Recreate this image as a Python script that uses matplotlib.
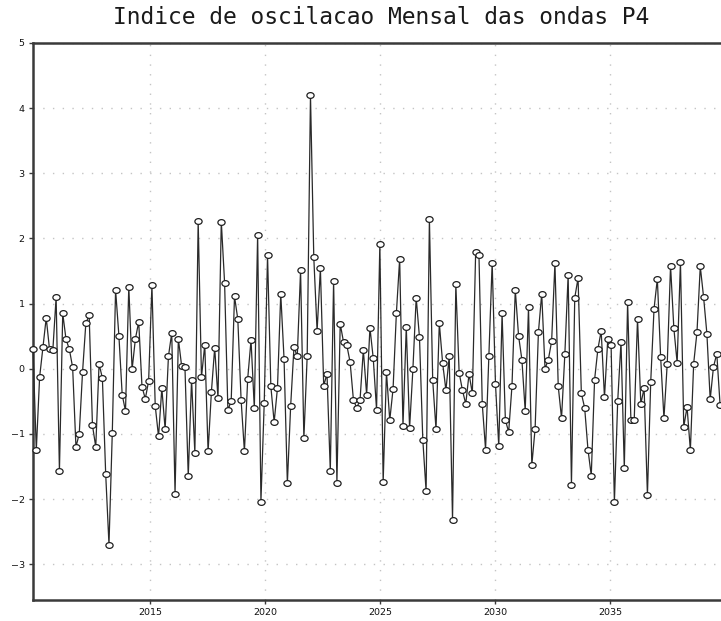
import numpy as np
import matplotlib
matplotlib.use("Agg")
import matplotlib.pyplot as plt
from matplotlib.path import Path
from matplotlib.transforms import Affine2D

# Monthly wave oscillation index (P4), consecutive samples
index_values = [
    0.30, -1.25, -0.13, 0.33, 0.78, 0.30, 0.28, 1.10, -1.57, 0.85,
    0.45, 0.30, 0.02, -1.20, -1.00, -0.05, 0.70, 0.82, -0.87, -1.20,
    0.07, -0.14, -1.61, -2.70, -0.99, 1.21, 0.51, -0.40, -0.65, 1.26,
    -0.01, 0.46, 0.72, -0.28, -0.46, -0.19, 1.28,
    -0.57, -1.04, -0.30, -0.93, 0.19, 0.55, -1.92, 0.46, 0.04, 0.02,
    -1.65, -0.17, -1.30, 2.27, -0.13, 0.37,
    -1.27, -0.36, 0.32, -0.45, 2.26, 1.32, -0.64, -0.49, 1.11, 0.76,
    -0.48, -1.27, -0.15, 0.44, -0.61, 2.06, -2.04,
    -0.52, 1.74, -0.27, -0.82, -0.30, 1.15, 0.15, -1.76, -0.57, 0.33,
    0.19, 1.51, -1.07, 0.19, 4.20, 1.71, 0.58, 1.54,
    -0.26, -0.08, -1.57, 1.35, -1.75, 0.69, 0.41, 0.36, 0.10, -0.48,
    -0.60, -0.48, 0.29, -0.40, 0.63, 0.16, -0.63, 1.92,
    -1.74, -0.05, -0.79, -0.31, 0.85, 1.69, -0.88, 0.64, -0.91, -0.01,
    1.09, 0.48, -1.09, -1.88, 2.30, -0.18, -0.93,
    0.70, 0.09, -0.33, 0.19, -2.32, 1.30, -0.06, -0.33, -0.54, -0.08,
    -0.38, 1.79, 1.75, -0.54, -1.24, 0.19, 1.63, -0.23,
    -1.19, 0.85, -0.79, -0.97, -0.26, 1.21, 0.50, 0.14, -0.65, 0.94,
    -1.48, -0.92, 0.56, 1.15, 0.00, 0.14, 0.42,
    1.62, -0.27, -0.76, 0.22, 1.44, -1.78, 1.09, 1.39, -0.38, -0.60,
    -1.24, -1.64, -0.17, 0.30, 0.58, -0.44, 0.46, 0.36,
    -2.05, -0.50, 0.41, -1.53, 1.02, -0.79, -0.79, 0.77, -0.54, -0.30,
    -1.94, -0.20, 0.92, 1.38, 0.18, -0.76, 0.08,
    1.58, 0.62, 0.09, 1.64, -0.89, -0.59, -1.25, 0.08, 0.56, 1.57,
    1.10, 0.54, -0.47, 0.03, 0.23, -0.56,
]

# Sample times in decimal years
t_start, t_end = 2009.91, 2039.78
times = np.linspace(t_start, t_end, len(index_values))

year_ticks = [2015, 2020, 2025, 2030, 2035]
value_ticks = [-3, -2, -1, 0, 1, 2, 3, 4, 5]

title = "Indice de oscilacao Mensal das ondas P4"

W, H = 721, 621
fig = plt.figure(figsize=(W / 100, H / 100), dpi=100)
ax = fig.add_axes([33 / W, 1 - 600 / H, 694 / W, 557 / H])

ax.set_xlim(2009.91, 2040.08)
ax.set_ylim(-3.55, 5)

# dotted reference grid
ax.set_xticks(year_ticks)
ax.set_yticks(value_ticks)
ax.grid(True, color="#c4c4c4", linestyle=(0, (1, 6)), linewidth=1.0)

# slightly flattened open-circle marker
ellipse = Path.unit_circle().transformed(Affine2D().scale(1.25, 1.0))

ax.plot(times, index_values, color="#2a2a2a", linewidth=0.9,
        marker=ellipse, markersize=5.2, markerfacecolor="white",
        markeredgecolor="#202020", markeredgewidth=0.9, clip_on=False,
        zorder=3)

for side in ["left", "bottom", "top", "right"]:
    ax.spines[side].set_color("#3a3a3a")
    ax.spines[side].set_linewidth(1.8)

ax.tick_params(axis="both", direction="out", length=3, width=1,
               color="#3a3a3a", labelsize=6.8, labelcolor="#111111", pad=3)

fig.text(381 / W, 1 - 18 / H, title, ha="center", va="center",
         fontsize=16.5, family="DejaVu Sans Mono", color="#1a1a1a")

fig.savefig("out.png", dpi=100)
